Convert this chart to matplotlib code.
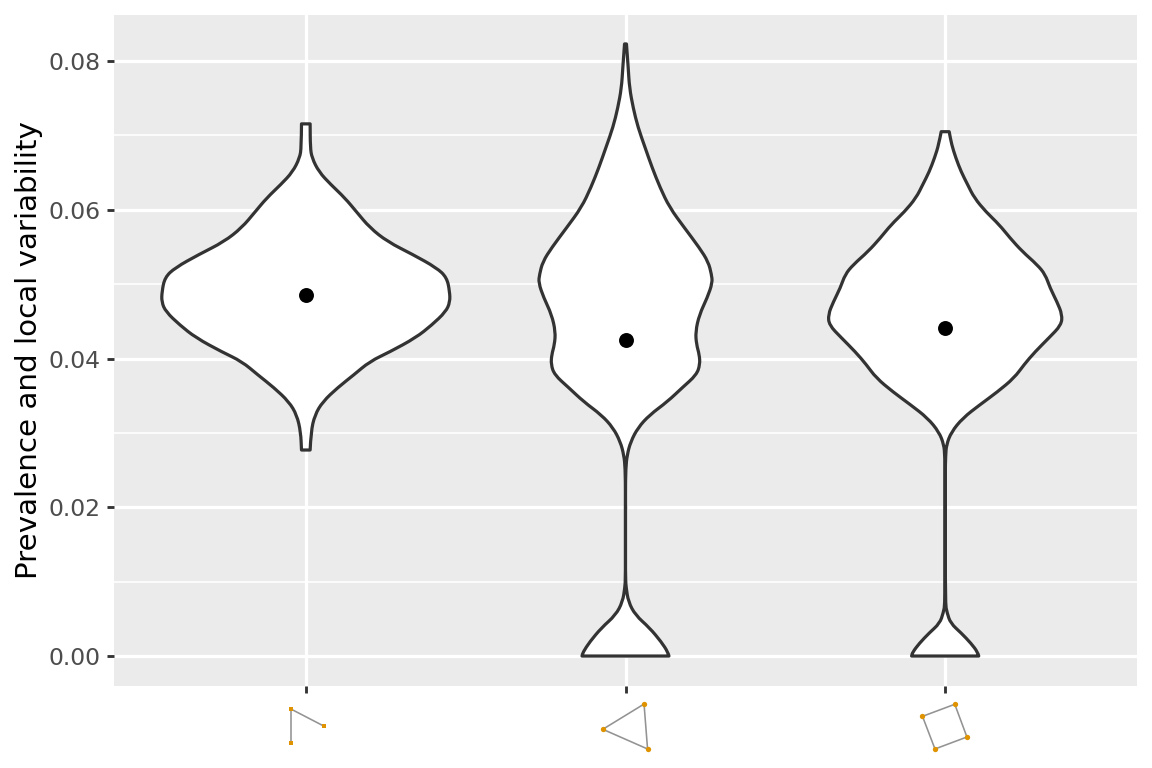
import matplotlib
matplotlib.use('Agg')
import matplotlib.pyplot as plt
from matplotlib.path import Path
from matplotlib.patches import PathPatch
import numpy as np

# violin outlines: y value and half width (in x axis units)
tri_open_y = [0.07155, 0.0684, 0.0670, 0.0651, 0.0634, 0.0616, 0.0597, 0.0576, 0.0557, 0.0540, 0.0522, 0.0509, 0.0490,
              0.0476, 0.0463, 0.0445, 0.0428, 0.0409, 0.0396, 0.0378, 0.0361, 0.0342, 0.0324, 0.0301, 0.0277]
tri_open_w = [0.0135, 0.0141, 0.019, 0.041, 0.078, 0.122, 0.159, 0.200, 0.256, 0.334, 0.409, 0.441, 0.450,
              0.451, 0.438, 0.394, 0.344, 0.263, 0.200, 0.150, 0.100, 0.053, 0.028, 0.016, 0.0135]

triangle_y = [0.0823, 0.0791, 0.0764, 0.0737, 0.0711, 0.0684, 0.0657, 0.0630, 0.0603, 0.0576, 0.0549, 0.0530, 0.0513,
              0.0502, 0.0482, 0.0459, 0.0436, 0.0419, 0.0405, 0.0392, 0.0378, 0.0361, 0.0342, 0.0324, 0.0307, 0.0288,
              0.0270, 0.0253, 0.0217, 0.0105, 0.0092, 0.0073, 0.0055, 0.0038, 0.0019, 0.0005, 0.0]
triangle_w = [0.003, 0.0085, 0.0125, 0.024, 0.039, 0.061, 0.083, 0.108, 0.138, 0.184, 0.231, 0.259, 0.269,
              0.272, 0.256, 0.231, 0.219, 0.222, 0.231, 0.233, 0.222, 0.178, 0.131, 0.075, 0.039, 0.016,
              0.005, 0.001, 0.0, 0.0, 0.002, 0.009, 0.031, 0.075, 0.112, 0.133, 0.136]

square_y = [0.0705, 0.0688, 0.0670, 0.0651, 0.0634, 0.0616, 0.0597, 0.0580, 0.0562, 0.0544, 0.0526, 0.0513, 0.0495,
            0.0476, 0.0459, 0.0445, 0.0428, 0.0409, 0.0392, 0.0374, 0.0355, 0.0338, 0.0320, 0.0301, 0.0284, 0.0270,
            0.0244, 0.0071, 0.0058, 0.0044, 0.0031, 0.0017, 0.0005, 0.0]
square_w = [0.0125, 0.020, 0.033, 0.050, 0.070, 0.091, 0.128, 0.169, 0.203, 0.241, 0.288, 0.313, 0.328,
            0.350, 0.366, 0.363, 0.325, 0.281, 0.247, 0.216, 0.163, 0.109, 0.055, 0.019, 0.004, 0.0015,
            0.0, 0.0, 0.006, 0.017, 0.050, 0.081, 0.102, 0.105]

means = [0.0486, 0.0425, 0.0441]
categories = [1, 2, 3]

# little network glyphs used as x tick labels
glyph_nodes_x = [[0.955, 1.056, 0.955], [2.058, 1.929, 2.069], [3.030, 2.929, 2.968, 3.068]]
glyph_nodes_y = [[0.716, 0.512, 0.303], [0.780, 0.472, 0.232], [0.777, 0.630, 0.232, 0.378]]
glyph_edges = [[(0, 1), (0, 2)], [(0, 1), (1, 2), (2, 0)], [(0, 1), (1, 2), (2, 3), (3, 0)]]
glyph_sizes = [1.4, 2.0, 2.0]


def side_path(pts):
    # quadratic pieces through the midpoints, so the outline is curved but the ends stay sharp
    verts = [pts[0]]
    codes = [Path.LINETO]
    for i in range(1, len(pts) - 1):
        verts += [pts[i], (pts[i] + pts[i + 1]) / 2]
        codes += [Path.CURVE3, Path.CURVE3]
    verts.append(pts[-1])
    codes.append(Path.LINETO)
    return verts, codes


def violin_patch(cat, ys, ws):
    ys = np.array(ys)
    ws = np.array(ws)
    left = np.column_stack([cat - ws, ys])
    right = np.column_stack([cat + ws, ys])[::-1]
    v1, c1 = side_path(left)
    v2, c2 = side_path(right)
    verts = v1 + v2 + [left[0]]
    codes = c1 + c2 + [Path.CLOSEPOLY]
    codes[0] = Path.MOVETO
    return PathPatch(Path(verts, codes), facecolor='white', edgecolor='#333333', lw=1.2,
                     joinstyle='round', zorder=3)


W, H = 1152, 768
fig = plt.figure(figsize=(6, 4), dpi=192)
ax = fig.add_axes([114 / W, 1 - 686 / H, 1023 / W, 671 / H])
ax.set_facecolor('#EBEBEB')
for s in ax.spines.values():
    s.set_visible(False)

ax.set_xlim(0.4, 3.6)
ax.set_ylim(-0.00403, 0.08619)
ax.set_xticks(categories)
ax.set_xticklabels([])
ax.set_yticks([0, 0.02, 0.04, 0.06, 0.08])
ax.set_yticklabels(['0.00', '0.02', '0.04', '0.06', '0.08'])
ax.set_yticks([0.01, 0.03, 0.05, 0.07], minor=True)
ax.grid(True, which='major', color='white', lw=1.2)
ax.grid(True, which='minor', axis='y', color='white', lw=0.6)
ax.set_axisbelow(True)
ax.tick_params(axis='both', which='major', color='#333333', width=1.07, length=2.75,
               labelcolor='#4D4D4D', labelsize=8.8, pad=2.2)
ax.tick_params(axis='both', which='minor', length=0)
ax.set_ylabel('Prevalence and local variability', fontsize=11, color='black', labelpad=2.2)

for cat, ys, ws in [(1, tri_open_y, tri_open_w), (2, triangle_y, triangle_w), (3, square_y, square_w)]:
    ax.add_patch(violin_patch(cat, ys, ws))

ax.plot(categories, means, 'o', color='black', ms=5.6, mew=0, zorder=4)

# strip under the panel for the glyphs
strip = fig.add_axes([114 / W, 0, 1023 / W, 82 / H])
strip.set_xlim(0.4, 3.6)
strip.set_ylim(0, 1)
strip.axis('off')
for gx, gy, edges, size in zip(glyph_nodes_x, glyph_nodes_y, glyph_edges, glyph_sizes):
    for a, b in edges:
        strip.plot([gx[a], gx[b]], [gy[a], gy[b]], color='#939393', lw=0.6, zorder=1)
    strip.plot(gx, gy, 's' if size < 1.5 else 'o', color='#DF9300', ms=size, mew=0, ls='none', zorder=2)

fig.savefig('out.png', dpi=192, facecolor='white')
